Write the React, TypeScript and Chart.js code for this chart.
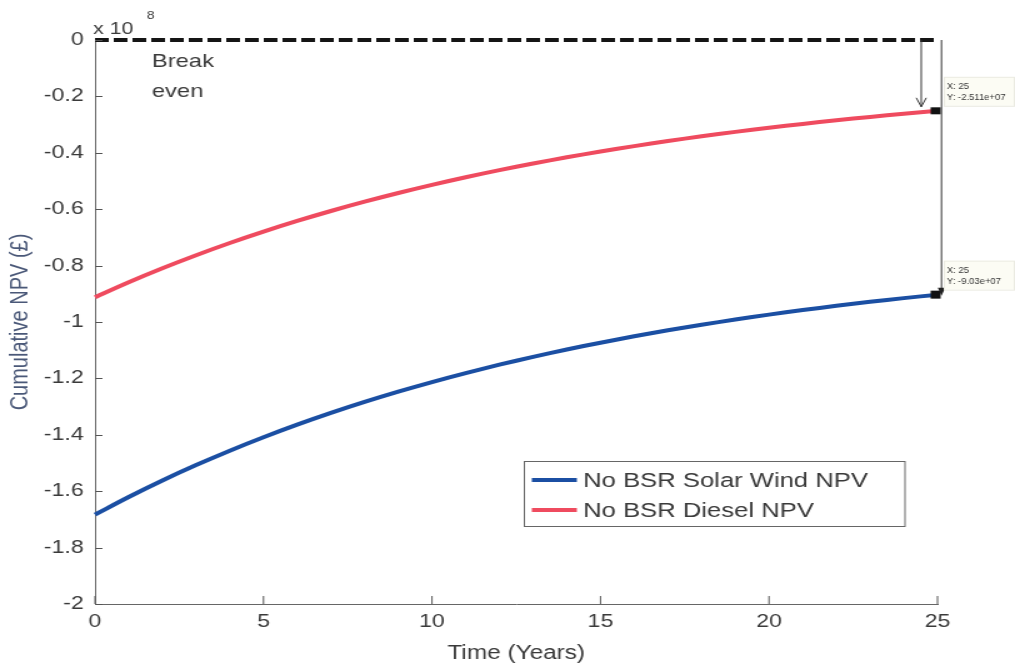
import React, { useEffect, useRef } from "react";
import { Chart, registerables } from "chart.js";

Chart.register(...registerables);

const years = [0,1,2,3,4,5,6,7,8,9,10,11,12,13,14,15,16,17,18,19,20,21,22,23,24,25];
const solarWind = [-1.683,-1.6205,-1.562,-1.5074,-1.4563,-1.4086,-1.364,-1.3223,-1.2833,-1.2469,-1.2129,-1.1811,-1.1514,-1.1236,-1.0976,-1.0734,-1.0507,-1.0295,-1.0097,-0.9912,-0.9739,-0.9577,-0.9426,-0.9285,-0.9153,-0.903];
const diesel = [-0.912,-0.859,-0.8095,-0.7632,-0.7199,-0.6795,-0.6417,-0.6064,-0.5733,-0.5425,-0.5137,-0.4867,-0.4615,-0.438,-0.416,-0.3955,-0.3762,-0.3583,-0.3415,-0.3258,-0.3112,-0.2975,-0.2847,-0.2727,-0.2615,-0.2511];
const breakEven = [0, 0];
const breakEvenX = [0, 25];
const xTicks = [0, 5, 10, 15, 20, 25];
const seriesLabels = ["No BSR Solar Wind NPV", "No BSR Diesel NPV"];
const tipTexts = [["X: 25", "Y: -2.511e+07"], ["X: 25", "Y: -9.03e+07"]];

const FONT = "'Liberation Sans', Arial, sans-serif";
const BLUE = "#1b4fa3";
const RED = "#ef4b5f";
const TXT = "#3a3a3a";
const SX = 1.25; // horizontal stretch of the picture
const W = Math.round(1015 / SX);

const overlay = {
  id: "overlay",
  afterDraw(chart: any) {
    const ctx = chart.ctx;
    const xs = chart.scales.x;
    const ys = chart.scales.y;
    const area = chart.chartArea;
    ctx.save();
    ctx.textBaseline = "alphabetic";
    ctx.textAlign = "left";
    // inward ticks
    ctx.strokeStyle = "#555";
    ctx.lineWidth = 1;
    ctx.beginPath();
    for (let v = -2; v <= 0.0001; v += 0.2) {
      const py = Math.round(ys.getPixelForValue(v)) + 0.5;
      ctx.moveTo(area.left, py);
      ctx.lineTo(area.left + 6, py);
    }
    xTicks.forEach((t) => {
      const px = xs.getPixelForValue(t);
      ctx.moveTo(px, area.bottom);
      ctx.lineTo(px, area.bottom - 8);
    });
    ctx.stroke();

    // x 10^8
    ctx.fillStyle = TXT;
    ctx.font = `17px ${FONT}`;
    ctx.fillText("x 10", area.left - 1.5, 34);
    ctx.font = `11px ${FONT}`;
    ctx.fillText("8", area.left + 41.5, 19);

    // Break even text
    ctx.font = `19px ${FONT}`;
    ctx.fillText("Break", area.left + 45.5, 66.5);
    ctx.fillText("even", area.left + 45.5, 96.5);

    // data tip markers
    const xEnd = xs.getPixelForValue(25);
    const yRed = ys.getPixelForValue(diesel[diesel.length - 1]);
    const yBlue = ys.getPixelForValue(solarWind[solarWind.length - 1]);
    ctx.fillStyle = "#111";
    ctx.fillRect(xEnd - 5.5, yRed - 3.5, 8, 7);
    ctx.fillRect(xEnd - 5.5, yBlue - 4, 8, 8);

    // arrows
    ctx.strokeStyle = "#333";
    ctx.lineWidth = 1;
    const ax1 = xEnd - 13;
    ctx.beginPath();
    ctx.moveTo(ax1, area.top);
    ctx.lineTo(ax1, yRed - 4);
    ctx.moveTo(ax1 - 4, yRed - 13);
    ctx.lineTo(ax1, yRed - 4);
    ctx.lineTo(ax1 + 4, yRed - 13);
    ctx.stroke();
    const ax2 = xEnd + 3.2;
    ctx.beginPath();
    ctx.moveTo(ax2, area.top);
    ctx.lineTo(ax2, yBlue - 3);
    ctx.stroke();
    ctx.fillStyle = "#222";
    ctx.beginPath();
    ctx.moveTo(ax2 - 3, yBlue - 7);
    ctx.lineTo(ax2 + 3, yBlue - 7);
    ctx.lineTo(ax2, yBlue + 1);
    ctx.closePath();
    ctx.fill();

    // tip boxes
    const boxTops = [yRed - 34, yBlue - 34];
    boxTops.forEach((by, i) => {
      ctx.fillStyle = "#fcfcf4";
      ctx.fillRect(xEnd + 5, by, 56, 29);
      ctx.strokeStyle = "#ebebe2";
      ctx.strokeRect(xEnd + 5.5, by + 0.5, 56, 29);
      ctx.fillStyle = "#333";
      ctx.font = `9.5px ${FONT}`;
      for (let k = 0; k < 2; k++) {
        ctx.save();
        ctx.translate(xEnd + 7.5, by + 12 + k * 11);
        ctx.scale(1 / SX, 1);
        ctx.fillText(tipTexts[i][k], 0, 0);
        ctx.restore();
      }
    });

    // legend
    const lx = 419.5, ly = 461.5, lw = 304.5, lh = 65;
    ctx.fillStyle = "#fff";
    ctx.fillRect(lx, ly, lw, lh);
    ctx.strokeStyle = "#666";
    ctx.lineWidth = 1;
    ctx.strokeRect(lx, ly, lw, lh);
    const cols = [BLUE, RED];
    seriesLabels.forEach((lab, i) => {
      const yy = 480 + i * 30;
      ctx.strokeStyle = cols[i];
      ctx.lineWidth = 4;
      ctx.beginPath();
      ctx.moveTo(425.5, yy);
      ctx.lineTo(461.5, yy);
      ctx.stroke();
      ctx.fillStyle = TXT;
      ctx.font = `20.5px ${FONT}`;
      ctx.textBaseline = "middle";
      ctx.fillText(lab, 466.5, yy + 1);
    });
    ctx.restore();
  },
};

export default function App() {
  const ref = useRef<HTMLCanvasElement>(null);
  useEffect(() => {
    document.body.style.margin = "0";
    const chart = new Chart(ref.current!, {
      type: "line",
      data: {
        datasets: [
          {
            label: "Break even",
            data: breakEvenX.map((x, i) => ({ x, y: breakEven[i] })),
            borderColor: "#151515",
            borderWidth: 4,
            borderDash: [11, 4],
            pointRadius: 0,
            clip: false,
          },
          {
            label: seriesLabels[1],
            data: years.map((x, i) => ({ x, y: diesel[i] })),
            borderColor: RED,
            borderWidth: 4,
            pointRadius: 0,
            tension: 0.3,
            clip: false,
          },
          {
            label: seriesLabels[0],
            data: years.map((x, i) => ({ x, y: solarWind[i] })),
            borderColor: BLUE,
            borderWidth: 4,
            pointRadius: 0,
            tension: 0.3,
            clip: false,
          },
        ],
      },
      options: {
        animation: false,
        responsive: false,
        layout: { padding: { top: 40, right: 62, left: 0, bottom: 0 } },
        plugins: { legend: { display: false }, tooltip: { enabled: false } },
        scales: {
          x: {
            type: "linear",
            min: 0,
            max: 25,
            afterBuildTicks: (s: any) => { s.ticks = xTicks.map((v) => ({ value: v })); },
            ticks: { color: TXT, font: { family: FONT, size: 18.5 }, padding: 7, maxRotation: 0 },
            grid: { drawOnChartArea: false, drawTicks: false },
            border: { color: "#666", width: 1 },
            title: { display: true, text: "Time (Years)", color: TXT, font: { family: FONT, size: 19.5 }, padding: { top: 0, bottom: 3 } },
            afterFit: (s: any) => { s.height = 64; },
          },
          y: {
            min: -2,
            max: 0,
            ticks: {
              stepSize: 0.2,
              color: TXT,
              font: { family: FONT, size: 18.5 },
              padding: 9,
              callback: (v: any) => String(Number(Number(v).toFixed(1))),
            },
            grid: { drawOnChartArea: false, drawTicks: false },
            border: { color: "#666", width: 1 },
            title: { display: true, text: "Cumulative NPV (£)", color: "#4a5878", font: { family: FONT, size: 20 }, padding: { top: 4, bottom: 0 } },
            afterFit: (s: any) => { s.width = 76; },
          },
        },
      },
      plugins: [overlay],
    });
    return () => chart.destroy();
  }, []);
  return (
    <div style={{ width: 1015, height: 668, background: "#fff", overflow: "hidden" }}>
      <canvas
        ref={ref}
        width={W}
        height={668}
        style={{ display: "block", width: W, height: 668, transform: `scaleX(${SX})`, transformOrigin: "0 0" }}
      />
    </div>
  );
}
